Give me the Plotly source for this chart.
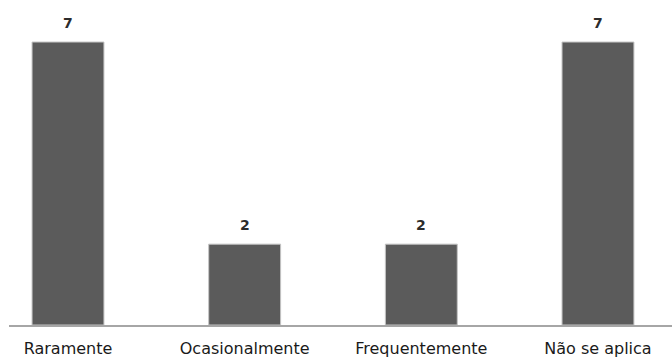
import plotly.graph_objects as go

# Response counts per frequency category
categories = ["Raramente", "Ocasionalmente", "Frequentemente", "Não se aplica"]
counts = [7, 2, 2, 7]

fig = go.Figure(
    go.Bar(
        x=categories,
        y=counts,
        marker=dict(color="#5b5b5b", line=dict(color="#c4c4c4", width=1)),
        hoverinfo="skip",
    )
)

# Value labels floating above each bar
for cat, val in zip(categories, counts):
    fig.add_annotation(
        x=cat, y=val, text=str(val), showarrow=False,
        yanchor="bottom", yshift=9,
        font=dict(family="DejaVu Sans", size=14, color="#2b2b2b", weight="bold"),
    )

fig.update_layout(
    width=672, height=362,
    margin=dict(l=9, r=0, t=0, b=37),
    paper_bgcolor="white", plot_bgcolor="white",
    bargap=0.593,
    showlegend=False,
    xaxis=dict(
        range=[-0.334, 3.419],
        showline=True, linecolor="#a6a6a6", linewidth=1.5,
        showgrid=False, zeroline=False, ticks="",
        ticklabelstandoff=8,
        tickfont=dict(family="DejaVu Sans", size=16, color="#1a1a1a"),
    ),
    yaxis=dict(range=[0, 8.04], visible=False),
)

fig.write_html("out.html")
